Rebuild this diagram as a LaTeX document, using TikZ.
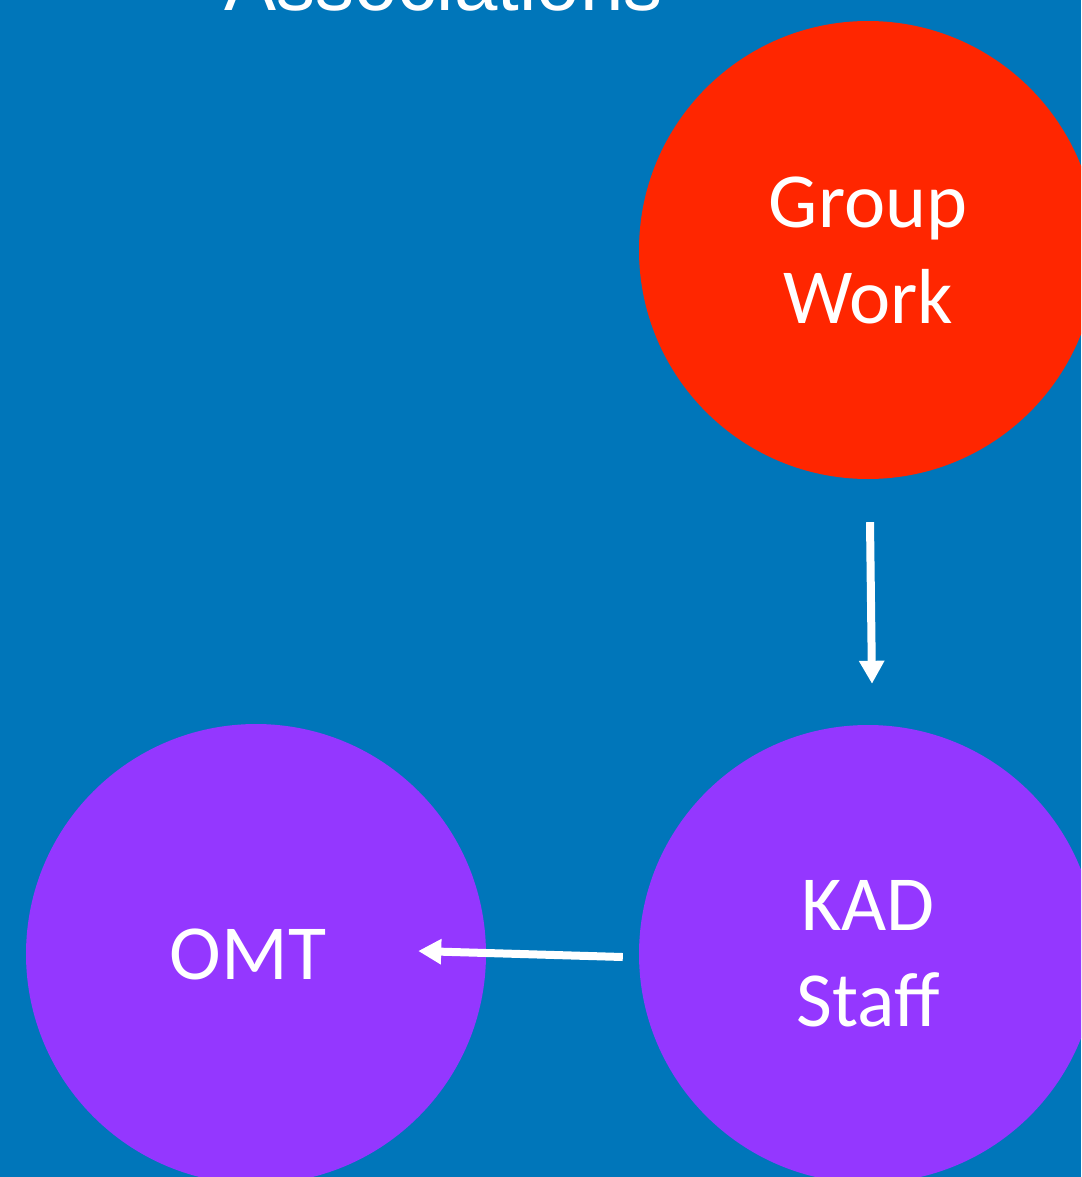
\documentclass[tikz,border=0pt]{standalone}
\usepackage{fontspec}
\setmainfont{Carlito}
\newfontfamily\titlefont{Liberation Sans}
\usetikzlibrary{arrows.meta}
\definecolor{bgblue}{HTML}{0076BA}
\definecolor{kred}{HTML}{FF2600}
\definecolor{kpurple}{HTML}{9437FF}
\tikzset{
  bubble/.style={circle, inner sep=0pt, minimum size=458pt, text=white, align=center,
    font=\fontsize{78}{96}\selectfont},
  whitearrow/.style={draw=white, line width=8pt, -{Triangle[length=23pt,width=24pt]}},
  titletext/.style={text=white, inner sep=0pt, font=\titlefont\fontsize{78}{90}\selectfont}
}
\begin{document}
\begin{tikzpicture}[x=1pt,y=-1pt]
  \useasboundingbox (0,0) rectangle (1081,1177);
  \clip (0,0) rectangle (1081,1177);
  \fill[bgblue] (0,0) rectangle (1081,1177);
  \node[titletext, anchor=base] (title) at (443.5,11) {Associations};
  \node[bubble, fill=kred] (group) at (868,250) {Group\\Work};
  \node[bubble, fill=kpurple] (kad) at (868,954) {KAD\\Staff};
  \node[bubble, fill=kpurple, minimum size=460pt] (omt) at (256,954) {OMT\kern16pt};
  \draw[whitearrow] ([xshift=2pt,yshift=-43pt]group.south) -- ([xshift=4pt,yshift=41pt]kad.north);
  \draw[whitearrow] ([xshift=-16pt,yshift=-3pt]kad.west) -- ([xshift=-68pt,yshift=3pt]omt.east);
\end{tikzpicture}
\end{document}
